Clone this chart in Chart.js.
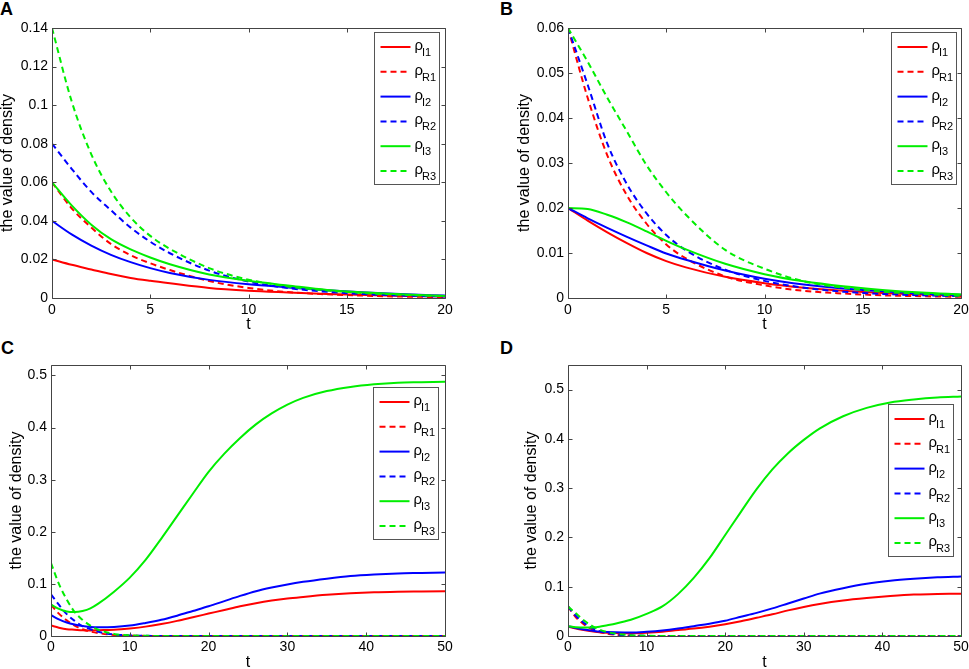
<!DOCTYPE html>
<html>
<head>
<meta charset="utf-8">
<script src="https://cdn.jsdelivr.net/npm/chart.js@4.4.0/dist/chart.umd.min.js"></script>
<style>
  body { margin: 0; background: #fff; width: 969px; height: 669px; position: relative; overflow: hidden;
         font-family: "Liberation Sans", Arial, Helvetica, sans-serif; }
  canvas { position: absolute; }
  .lbl { position: absolute; font-weight: bold; font-size: 18px; line-height: 1; }
</style>
</head>
<body>
<div class="lbl" style="left:0px;top:0px">A</div>
<div class="lbl" style="left:500px;top:0px">B</div>
<div class="lbl" style="left:1px;top:339px">C</div>
<div class="lbl" style="left:500px;top:339px">D</div>
<canvas id="cA" width="484" height="330" style="left:0;top:0"></canvas>
<canvas id="cB" width="484" height="330" style="left:485px;top:0"></canvas>
<canvas id="cC" width="484" height="339" style="left:0;top:330px"></canvas>
<canvas id="cD" width="484" height="339" style="left:485px;top:330px"></canvas>
<script>
// time samples
const tShort = [0, 1, 2, 3, 4, 5, 6, 8, 10, 12, 14, 16, 18, 20];
const tLong = [0, 1, 2, 3, 4, 5, 6, 8, 10, 12, 14, 16, 18, 20, 22, 24, 26, 28, 30, 32, 35, 38, 41, 44, 47, 50];
const subs = ['I1', 'R1', 'I2', 'R2', 'I3', 'R3'];

// panel A
const aI1 = [0.02, 0.0172, 0.0148, 0.0124, 0.0104, 0.0089, 0.0076, 0.0052, 0.0038, 0.0029, 0.0021, 0.0015, 0.0011, 0.0008];
const aR1 = [0.06, 0.0465, 0.0365, 0.028, 0.0222, 0.018, 0.0145, 0.0088, 0.0052, 0.0031, 0.0019, 0.0012, 0.0007, 0.0005];
const aI2 = [0.04, 0.033, 0.0272, 0.0224, 0.0186, 0.0155, 0.013, 0.0094, 0.0071, 0.0055, 0.004, 0.0028, 0.0019, 0.0013];
const aR2 = [0.08, 0.067, 0.055, 0.0455, 0.0365, 0.0292, 0.0232, 0.0142, 0.0085, 0.0052, 0.0032, 0.002, 0.0012, 0.0008];
const aI3 = [0.06, 0.048, 0.038, 0.0305, 0.0252, 0.021, 0.0175, 0.0122, 0.0089, 0.0065, 0.0042, 0.0028, 0.0018, 0.0011];
const aR3 = [0.14, 0.102, 0.0745, 0.0553, 0.0418, 0.0322, 0.0255, 0.0155, 0.0095, 0.006, 0.0039, 0.0025, 0.0016, 0.001];

// panel B
const bI1 = [0.02, 0.0172, 0.0146, 0.0122, 0.01, 0.0082, 0.0068, 0.0047, 0.0033, 0.0023, 0.0016, 0.0011, 0.0008, 0.0005];
const bR1 = [0.06, 0.0445, 0.0317, 0.0228, 0.0165, 0.0119, 0.0088, 0.0048, 0.0028, 0.0016, 0.001, 0.0006, 0.0004, 0.00025];
const bI2 = [0.02, 0.0177, 0.0156, 0.0136, 0.0117, 0.0099, 0.0085, 0.0061, 0.0043, 0.003, 0.0021, 0.0015, 0.001, 0.0007];
const bR2 = [0.06, 0.0474, 0.0343, 0.0253, 0.0188, 0.014, 0.0106, 0.0063, 0.0038, 0.0023, 0.0014, 0.0009, 0.0006, 0.0004];
const bI3 = [0.02, 0.0198, 0.0185, 0.0168, 0.0148, 0.0127, 0.0108, 0.0076, 0.0053, 0.0037, 0.0026, 0.0018, 0.0012, 0.0008];
const bR3 = [0.06, 0.0525, 0.0445, 0.037, 0.0295, 0.0235, 0.0185, 0.0107, 0.0065, 0.0037, 0.0023, 0.0014, 0.0009, 0.0005];

// panel C
const cI1 = [0.02, 0.016, 0.013, 0.012, 0.011, 0.0105, 0.011, 0.012, 0.0145, 0.018, 0.023, 0.029, 0.036, 0.043, 0.05, 0.057, 0.063, 0.068, 0.072, 0.075, 0.079, 0.082, 0.084, 0.085, 0.0855, 0.086];
const cR1 = [0.06, 0.043, 0.03, 0.02, 0.013, 0.0085, 0.0055, 0.002, 0.0007, 0.0002, 0.0001, 0, 0, 0, 0, 0, 0, 0, 0, 0, 0, 0, 0, 0, 0, 0];
const cI2 = [0.04, 0.032, 0.026, 0.022, 0.019, 0.0175, 0.017, 0.0175, 0.02, 0.025, 0.031, 0.039, 0.048, 0.057, 0.067, 0.077, 0.086, 0.093, 0.099, 0.104, 0.11, 0.115, 0.118, 0.12, 0.121, 0.122];
const cR2 = [0.08, 0.06, 0.042, 0.029, 0.019, 0.013, 0.008, 0.003, 0.001, 0.0003, 0.0001, 0, 0, 0, 0, 0, 0, 0, 0, 0, 0, 0, 0, 0, 0, 0];
const cI3 = [0.06, 0.052, 0.047, 0.046, 0.048, 0.053, 0.062, 0.085, 0.112, 0.146, 0.187, 0.23, 0.273, 0.315, 0.35, 0.38, 0.406, 0.427, 0.444, 0.457, 0.47, 0.478, 0.483, 0.486, 0.487, 0.488];
const cR3 = [0.14, 0.1, 0.07, 0.046, 0.031, 0.02, 0.012, 0.004, 0.0012, 0.0004, 0.0001, 0, 0, 0, 0, 0, 0, 0, 0, 0, 0, 0, 0, 0, 0, 0];

// panel D
const dI1 = [0.019, 0.015, 0.012, 0.0095, 0.0078, 0.0065, 0.006, 0.0055, 0.0065, 0.0085, 0.012, 0.015, 0.019, 0.024, 0.03, 0.037, 0.044, 0.052, 0.059, 0.065, 0.072, 0.077, 0.081, 0.084, 0.085, 0.086];
const dR1 = [0.06, 0.038, 0.024, 0.014, 0.008, 0.0045, 0.0025, 0.0008, 0.0002, 0.0001, 0, 0, 0, 0, 0, 0, 0, 0, 0, 0, 0, 0, 0, 0, 0, 0];
const dI2 = [0.02, 0.016, 0.013, 0.011, 0.009, 0.008, 0.0075, 0.007, 0.0085, 0.011, 0.015, 0.02, 0.025, 0.031, 0.039, 0.047, 0.056, 0.066, 0.076, 0.086, 0.097, 0.106, 0.112, 0.116, 0.119, 0.121];
const dR2 = [0.06, 0.041, 0.027, 0.017, 0.01, 0.006, 0.0035, 0.001, 0.0003, 0.0001, 0, 0, 0, 0, 0, 0, 0, 0, 0, 0, 0, 0, 0, 0, 0, 0];
const dI3 = [0.02, 0.018, 0.017, 0.0175, 0.019, 0.022, 0.025, 0.033, 0.045, 0.06, 0.085, 0.118, 0.158, 0.205, 0.252, 0.298, 0.338, 0.371, 0.398, 0.421, 0.446, 0.463, 0.474, 0.48, 0.484, 0.486];
const dR3 = [0.06, 0.046, 0.032, 0.021, 0.013, 0.008, 0.005, 0.0015, 0.0005, 0.0001, 0, 0, 0, 0, 0, 0, 0, 0, 0, 0, 0, 0, 0, 0, 0, 0];

// tick values and labels
const xTicks20 = [0, 5, 10, 15, 20];
const xLabels20 = ['0', '5', '10', '15', '20'];
const xTicks50 = [0, 10, 20, 30, 40, 50];
const xLabels50 = ['0', '10', '20', '30', '40', '50'];
const yTicksA = [0, 0.02, 0.04, 0.06, 0.08, 0.1, 0.12, 0.14];
const yLabelsA = ['0', '0.02', '0.04', '0.06', '0.08', '0.1', '0.12', '0.14'];
const yTicksB = [0, 0.01, 0.02, 0.03, 0.04, 0.05, 0.06];
const yLabelsB = ['0', '0.01', '0.02', '0.03', '0.04', '0.05', '0.06'];
const yTicksCD = [0, 0.1, 0.2, 0.3, 0.4, 0.5];
const yLabelsCD = ['0', '0.1', '0.2', '0.3', '0.4', '0.5'];

const colors = ['#ff0000', '#ff0000', '#0000ff', '#0000ff', '#00ee00', '#00ee00'];
const dashes = [[], [6, 4], [], [6, 4], [], [6, 4]];
const FONT = '"Liberation Sans", Arial, Helvetica, sans-serif';

Chart.defaults.font.family = FONT;
Chart.defaults.font.size = 14;
Chart.defaults.color = '#000';

// box round the plot with inward ticks on all four sides
const matlabFrame = {
  id: 'matlabFrame',
  afterDatasetsDraw(chart) {
    const { ctx, chartArea: a, scales: { x, y } } = chart;
    const L = Math.round(a.left) + 0.5, R = Math.round(a.right) + 0.5;
    const T = Math.round(a.top) + 0.5, B = Math.round(a.bottom) + 0.5;
    ctx.save();
    ctx.strokeStyle = '#444';
    ctx.lineWidth = 1;
    ctx.beginPath();
    ctx.rect(L, T, R - L, B - T);
    x.ticks.forEach(t => {
      const px = Math.round(x.getPixelForValue(t.value)) + 0.5;
      ctx.moveTo(px, B); ctx.lineTo(px, B - 4);
      ctx.moveTo(px, T); ctx.lineTo(px, T + 4);
    });
    y.ticks.forEach(t => {
      const py = Math.round(y.getPixelForValue(t.value)) + 0.5;
      ctx.moveTo(L, py); ctx.lineTo(L + 4, py);
      ctx.moveTo(R, py); ctx.lineTo(R - 4, py);
    });
    ctx.stroke();
    ctx.restore();
  }
};

// legend box inside the plot, with subscripted labels
const rhoLegend = {
  id: 'rhoLegend',
  afterDraw(chart, args, opts) {
    const { ctx, chartArea: a } = chart;
    const w = 65, h = 152;
    const x0 = Math.round(a.right - opts.right - w) + 0.5;
    const y0 = Math.round(a.top + opts.top) + 0.5;
    ctx.save();
    ctx.fillStyle = '#fff';
    ctx.fillRect(x0, y0, w, h);
    ctx.strokeStyle = '#555';
    ctx.lineWidth = 1;
    ctx.strokeRect(x0, y0, w, h);
    chart.data.datasets.forEach((ds, i) => {
      const yy = y0 + 14.5 + i * 24.8;
      ctx.strokeStyle = ds.borderColor;
      ctx.lineWidth = 2;
      ctx.setLineDash(ds.borderDash);
      ctx.beginPath();
      ctx.moveTo(x0 + 6, yy);
      ctx.lineTo(x0 + 36, yy);
      ctx.stroke();
      ctx.setLineDash([]);
      ctx.fillStyle = '#000';
      ctx.textBaseline = 'alphabetic';
      ctx.textAlign = 'left';
      ctx.font = '15px ' + FONT;
      ctx.fillText('ρ', x0 + 40, yy + 3);
      const rw = ctx.measureText('ρ').width;
      ctx.font = '11px ' + FONT;
      ctx.fillText(ds.sub, x0 + 40 + rw - 1, yy + 9);
    });
    ctx.restore();
  }
};

function makeChart(id, t, series, p) {
  const datasets = series.map((vals, i) => ({
    label: 'ρ' + subs[i],
    sub: subs[i],
    data: vals.map((v, k) => ({ x: t[k], y: v })),
    borderColor: colors[i],
    borderDash: dashes[i],
    borderWidth: 2,
    pointRadius: 0,
    fill: false,
    cubicInterpolationMode: 'monotone',
    order: 6 - i
  }));
  return new Chart(document.getElementById(id), {
    type: 'line',
    data: { datasets },
    options: {
      responsive: false,
      animation: false,
      layout: { padding: p.pad },
      plugins: {
        legend: { display: false },
        tooltip: { enabled: false },
        rhoLegend: p.legend
      },
      scales: {
        x: {
          type: 'linear',
          min: t[0], max: t[t.length - 1],
          grid: { display: false, drawTicks: false },
          border: { display: false },
          ticks: { padding: p.xPad, maxRotation: 0, callback: (v, i) => p.xLabels[i] },
          afterBuildTicks: s => { s.ticks = p.xTicks.map(v => ({ value: v })); },
          afterFit: s => { s.height = p.xHeight; s.paddingLeft = 0; s.paddingRight = 0; },
          title: { display: true, text: 't', font: { size: 16 }, padding: { top: 0, bottom: p.tPad } }
        },
        y: {
          type: 'linear',
          min: 0, max: p.yMax,
          grid: { display: false, drawTicks: false },
          border: { display: false },
          ticks: { padding: 4, callback: (v, i) => p.yLabels[i] },
          afterBuildTicks: s => { s.ticks = p.yTicks.map(v => ({ value: v })); },
          afterFit: s => { s.width = p.yWidth; },
          title: { display: true, text: 'the value of density', font: { size: 16 }, padding: { top: -2, bottom: 0 } }
        }
      }
    },
    plugins: [matlabFrame, rhoLegend]
  });
}

makeChart('cA', tShort, [aI1, aR1, aI2, aR2, aI3, aR3], {
  pad: { left: 0, top: 28, right: 39, bottom: 0 }, yWidth: 52, xHeight: 32, tPad: -4.6, xPad: 4,
  yMax: 0.14, yTicks: yTicksA, yLabels: yLabelsA, xTicks: xTicks20, xLabels: xLabels20,
  legend: { top: 4, right: 6 }
});
makeChart('cB', tShort, [bI1, bR1, bI2, bR2, bI3, bR3], {
  pad: { left: 32, top: 28, right: 8, bottom: 0 }, yWidth: 51, xHeight: 32, tPad: -4.6, xPad: 4,
  yMax: 0.06, yTicks: yTicksB, yLabels: yLabelsB, xTicks: xTicks20, xLabels: xLabels20,
  legend: { top: 4, right: 5 }
});
makeChart('cC', tLong, [cI1, cR1, cI2, cR2, cI3, cR3], {
  pad: { left: 9, top: 35, right: 39, bottom: 0 }, yWidth: 42, xHeight: 33, tPad: -3.6, xPad: 2.5,
  yMax: 0.52, yTicks: yTicksCD, yLabels: yLabelsCD, xTicks: xTicks50, xLabels: xLabels50,
  legend: { top: 22, right: 7 }
});
makeChart('cD', tLong, [dI1, dR1, dI2, dR2, dI3, dR3], {
  pad: { left: 39, top: 35, right: 8, bottom: 0 }, yWidth: 44, xHeight: 33, tPad: -3.6, xPad: 2.5,
  yMax: 0.55, yTicks: yTicksCD, yLabels: yLabelsCD, xTicks: xTicks50, xLabels: xLabels50,
  legend: { top: 39, right: 8 }
});
</script>
</body>
</html>
